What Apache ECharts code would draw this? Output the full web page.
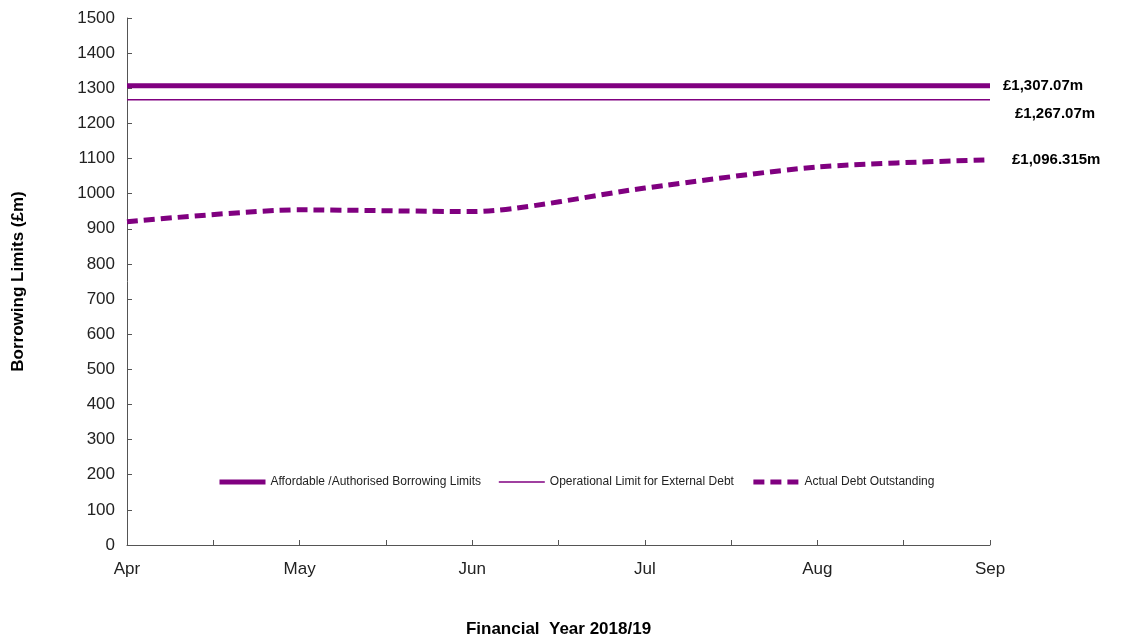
<!DOCTYPE html>
<html>
<head>
<meta charset="utf-8">
<script src="https://cdn.jsdelivr.net/npm/echarts@6/dist/echarts.min.js"></script>
<style>
  html, body { margin: 0; padding: 0; background: #fff; }
  #chart { width: 1122px; height: 639px; }
</style>
</head>
<body>
<div id="chart"></div>
<script>
/* data */
const months = ['Apr', 'May', 'Jun', 'Jul', 'Aug', 'Sep'];
const authorisedLimit = [1307.07, 1307.07, 1307.07, 1307.07, 1307.07, 1307.07];
const operationalLimit = [1267.07, 1267.07, 1267.07, 1267.07, 1267.07, 1267.07];
const actualDebt = [920, 954, 949, 1016, 1076, 1096.315];
const endTexts = ['£1,307.07m', '£1,267.07m', '£1,096.315m'];

const purple = '#800080';
const font = 'Liberation Sans, Arial, sans-serif';

/* pair values with month index so the x axis can carry half-month ticks */
const toPoints = arr => arr.map((v, i) => [i, v]);

const endLabel = (text, offset) => ({
    show: true,
    formatter: () => text,
    offset: offset,
    fontFamily: font,
    fontWeight: 'bold',
    fontSize: 15,
    color: '#000'
});

const option = {
    animation: false,
    backgroundColor: '#fff',
    grid: { left: 127, right: 132, top: 18, bottom: 94, outerBoundsMode: 'none', containLabel: false },
    legend: {
        top: 471,
        left: 212,
        itemWidth: 46,
        itemHeight: 14,
        itemGap: 17,
        itemStyle: { opacity: 0 },
        textStyle: { fontFamily: font, fontSize: 12, color: '#222' },
        data: [
            { name: 'Affordable /Authorised Borrowing Limits', lineStyle: { width: 5 } },
            { name: 'Operational Limit for External Debt', lineStyle: { width: 1.5 } },
            { name: 'Actual Debt Outstanding', lineStyle: { width: 5 } }
        ]
    },
    xAxis: {
        type: 'value',
        min: 0,
        max: 5,
        interval: 0.5,
        name: 'Financial  Year 2018/19',
        nameLocation: 'middle',
        nameGap: 76,
        nameTextStyle: { fontFamily: font, fontWeight: 'bold', fontSize: 17, color: '#000' },
        axisLine: { lineStyle: { color: '#555', width: 1 } },
        axisTick: { inside: true, length: 5, lineStyle: { color: '#555' } },
        splitLine: { show: false },
        axisLabel: {
            margin: 16,
            fontFamily: font,
            fontSize: 17,
            color: '#222',
            formatter: v => (Number.isInteger(v) ? months[v] : '')
        }
    },
    yAxis: {
        type: 'value',
        min: 0,
        max: 1500,
        interval: 100,
        name: 'Borrowing Limits (£m)',
        nameLocation: 'middle',
        nameGap: 100,
        nameTextStyle: { fontFamily: font, fontWeight: 'bold', fontSize: 17, color: '#000' },
        axisLine: { show: true, lineStyle: { color: '#555', width: 1 } },
        axisTick: { show: true, inside: true, length: 5, lineStyle: { color: '#555' } },
        splitLine: { show: false },
        axisLabel: { margin: 12, fontFamily: font, fontSize: 17, color: '#222', formatter: v => String(v) }
    },
    series: [
        {
            name: 'Affordable /Authorised Borrowing Limits',
            type: 'line',
            symbol: 'none',
            data: toPoints(authorisedLimit),
            lineStyle: { color: purple, width: 5 },
            itemStyle: { color: purple },
            endLabel: endLabel(endTexts[0], [5, 0])
        },
        {
            name: 'Operational Limit for External Debt',
            type: 'line',
            symbol: 'none',
            data: toPoints(operationalLimit),
            lineStyle: { color: purple, width: 1.5 },
            itemStyle: { color: purple },
            endLabel: endLabel(endTexts[1], [17, 14])
        },
        {
            name: 'Actual Debt Outstanding',
            type: 'line',
            symbol: 'none',
            smooth: 0.25,
            data: toPoints(actualDebt),
            lineStyle: { color: purple, width: 5, type: [11, 6] },
            itemStyle: { color: purple },
            endLabel: endLabel(endTexts[2], [14, 0])
        }
    ]
};

const myChart = echarts.init(document.getElementById('chart'));
myChart.setOption(option);
</script>
</body>
</html>
